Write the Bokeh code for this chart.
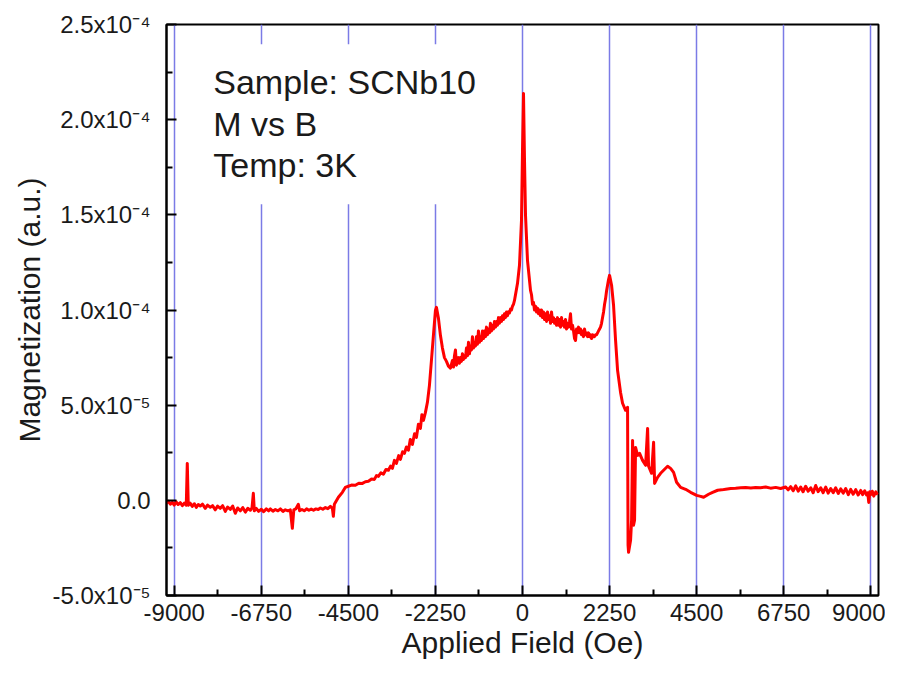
from bokeh.plotting import figure
from bokeh.models import FixedTicker, Range1d, Label, BoxAnnotation
from bokeh.embed import file_html
from bokeh.resources import INLINE

# ---- data, field in Oe, magnetization in 1e-5 a.u. ----
field_baseline_left = [
    -9206, -9150, -9100, -9050, -9000, -8950, -8900, -8844, -8790, -8740,
    -8689, -8663, -8637, -8590, -8534, -8480, -8430, -8380, -8327, -8270,
    -8198, -8140, -8068, -8010, -7939, -7880, -7810, -7750, -7680, -7620,
    -7551, -7490, -7422, -7360, -7293, -7230, -7163, -7100, -7034, -6990,
    -6956, -6930, -6880, -6820, -6749, -6690, -6620, -6560, -6517, -6450,
    -6387, -6320, -6258, -6190, -6129, -6060, -6000, -5948, -5910, -5860,
    -5793, -5760, -5700, -5640, -5580, -5520, -5460, -5400, -5340, -5280,
    -5224, -5160, -5094, -5030, -4965, -4913, -4888, -4862]
mag_baseline_left = [
    -0.16, -0.05, -0.20, -0.10, -0.25, -0.08, -0.22, -0.12, -0.28, -0.15,
    -0.26, 1.94, -0.26, -0.15, -0.32, -0.18, -0.37, -0.22, -0.30, -0.20,
    -0.42, -0.25, -0.36, -0.28, -0.50, -0.30, -0.42, -0.28, -0.58, -0.35,
    -0.48, -0.30, -0.68, -0.40, -0.55, -0.38, -0.62, -0.42, -0.52, -0.40,
    0.37, -0.55, -0.42, -0.58, -0.47, -0.60, -0.45, -0.55, -0.45, -0.57,
    -0.48, -0.55, -0.45, -0.58, -0.50, -0.55, -0.50, -1.47, -0.50, -0.45,
    -0.21, -0.55, -0.48, -0.55, -0.45, -0.52, -0.46, -0.52, -0.45, -0.48,
    -0.40, -0.47, -0.38, -0.44, -0.32, -0.42, -0.84, -0.21]

field_rise_left = [
    -4758, -4655, -4580, -4500, -4420, -4319, -4230, -4138, -4060, -3982,
    -3900, -3827, -3775, -3724, -3660, -3595, -3530, -3465, -3410, -3362,
    -3310, -3258, -3200, -3155, -3100, -3051, -3000, -2948, -2900, -2845,
    -2790, -2741, -2690, -2638, -2600, -2560, -2508, -2457, -2405, -2353,
    -2302, -2250, -2224, -2172]
mag_rise_left = [
    0.16, 0.42, 0.68, 0.74, 0.80, 0.79, 0.90, 0.89, 0.98, 1.00,
    1.12, 1.10, 1.30, 1.26, 1.45, 1.37, 1.62, 1.58, 1.80, 1.68,
    2.10, 1.94, 2.35, 2.15, 2.55, 2.47, 2.80, 2.63, 3.20, 2.94,
    3.50, 3.31, 4.00, 3.78, 4.50, 4.20, 4.62, 5.15, 6.04, 7.36,
    8.67, 9.98, 10.14, 9.56]

field_mid_left = [
    -2121, -2069, -2017, -1965, -1914, -1862, -1810, -1784, -1758, -1733,
    -1707, -1681, -1655, -1629, -1603, -1578, -1552, -1526, -1500, -1474,
    -1448, -1422, -1396, -1371, -1345, -1319, -1293, -1267, -1241, -1216,
    -1190, -1164, -1138, -1112, -1086, -1060, -1034, -1009, -983, -957,
    -931, -905, -879, -853, -828, -802, -776, -750, -724, -698,
    -672, -647, -621, -595, -569, -543, -517, -491, -465, -440,
    -414, -388, -362, -336, -310, -284, -259, -233, -207, -181]
mag_mid_left = [
    8.67, 8.0, 7.5, 7.3, 7.05, 6.95, 7.35, 7.0, 7.6, 7.9,
    7.1, 7.3, 7.5, 7.2, 7.5, 7.3, 7.7, 7.4, 7.6, 7.5,
    8.0, 7.6, 8.3, 7.7, 8.1, 7.9, 8.6, 8.0, 8.3, 8.1,
    8.6, 8.2, 8.9, 8.3, 8.6, 8.4, 8.9, 8.5, 8.9, 8.6,
    9.1, 8.7, 9.0, 8.8, 9.3, 8.9, 9.2, 9.0, 9.4, 9.1,
    9.4, 9.2, 9.6, 9.3, 9.6, 9.4, 9.7, 9.5, 9.8, 9.6,
    9.9, 9.7, 9.9, 9.85, 10.05, 10.0, 10.2, 10.3, 10.5, 10.8]

field_center = [-129, -78, -26, 0, 26, 52, 78, 129, 207]
mag_center = [11.40, 12.35, 14.71, 18.39, 21.38, 17.86, 14.97, 12.61, 11.03]

field_mid_right = [
    233, 259, 284, 310, 336, 362, 388, 414, 440, 465,
    491, 517, 543, 569, 595, 621, 647, 672, 698, 724,
    750, 776, 802, 828, 853, 879, 905, 931, 957, 983,
    1009, 1034, 1060, 1086, 1112, 1138, 1164, 1190, 1216, 1241,
    1267, 1293, 1319, 1345, 1371, 1396, 1422, 1448, 1474, 1500,
    1526, 1552, 1578, 1603, 1629, 1655, 1681, 1707, 1733, 1758,
    1784, 1810, 1836, 1862, 1888, 1914, 1940, 1965, 1991, 2017,
    2043, 2069, 2095, 2121, 2147, 2172, 2198, 2224, 2250]
mag_mid_right = [
    10.8, 10.3, 10.4, 10.0, 10.2, 9.9, 10.1, 9.8, 10.0, 9.7,
    10.0, 9.6, 9.9, 9.5, 9.8, 9.4, 9.9, 9.5, 9.7, 9.3,
    9.9, 9.4, 9.6, 9.3, 9.5, 9.2, 9.6, 9.2, 9.5, 9.1,
    9.6, 9.2, 9.4, 9.1, 9.5, 9.0, 9.3, 9.1, 9.4, 9.8,
    9.0, 9.2, 8.9, 8.5, 8.4, 9.0, 8.8, 9.1, 8.8, 9.0,
    8.7, 8.9, 8.6, 9.0, 8.7, 8.8, 8.6, 8.8, 8.6, 8.7,
    8.5, 8.7, 8.6, 8.6, 8.7, 8.7, 8.8, 8.9, 9.0, 9.1,
    9.3, 9.6, 9.9, 10.3, 10.6, 11.0, 11.3, 11.6, 11.82]

field_fall_right = [
    2302, 2353, 2405, 2457, 2534, 2586, 2664, 2715, 2728, 2741,
    2793, 2819, 2845, 2870, 2896, 2922, 2974, 3026, 3103, 3181,
    3233, 3258, 3336, 3388, 3414, 3491, 3569, 3672, 3750, 3827,
    3905, 3982, 4086, 4215, 4344, 4500, 4603, 4681, 4810]
mag_fall_right = [
    11.30, 10.25, 8.41, 6.83, 5.67, 5.10, 4.73, 4.89, -2.36, -2.73,
    -2.10, -1.05, 3.15, -1.31, -1.05, 2.78, 2.36, 2.47, 2.10, 1.84,
    3.78, 1.79, 1.42, 3.05, 0.89, 1.21, 1.42, 1.63, 1.79, 1.68,
    1.47, 0.95, 0.68, 0.58, 0.42, 0.26, 0.21, 0.16, 0.32]

field_baseline_right = [
    4913, 5043, 5150, 5250, 5380, 5508, 5640, 5767, 5900, 6025,
    6150, 6284, 6410, 6543, 6670, 6801, 6865, 6930, 6995, 7060,
    7125, 7189, 7250, 7318, 7383, 7448, 7512, 7577, 7640, 7706,
    7770, 7836, 7900, 7965, 8030, 8094, 8160, 8223, 8290, 8353,
    8420, 8482, 8545, 8611, 8675, 8741, 8790, 8844, 8890, 8922,
    8948, 8975, 8999, 9040, 9077, 9130, 9180]
mag_baseline_right = [
    0.42, 0.53, 0.55, 0.58, 0.62, 0.63, 0.66, 0.68, 0.65, 0.68,
    0.66, 0.70, 0.64, 0.68, 0.62, 0.70, 0.55, 0.72, 0.50, 0.76,
    0.48, 0.70, 0.45, 0.74, 0.48, 0.66, 0.40, 0.78, 0.46, 0.66,
    0.40, 0.70, 0.38, 0.62, 0.40, 0.66, 0.36, 0.60, 0.38, 0.62,
    0.30, 0.58, 0.32, 0.56, 0.28, 0.52, 0.30, 0.50, 0.28, 0.40,
    -0.11, 0.45, 0.30, 0.48, 0.22, 0.45, 0.30]

field_oe = (field_baseline_left + field_rise_left + field_mid_left + field_center
            + field_mid_right + field_fall_right + field_baseline_right)
magnetization_e5 = (mag_baseline_left + mag_rise_left + mag_mid_left + mag_center
                    + mag_mid_right + mag_fall_right + mag_baseline_right)
assert len(field_oe) == len(magnetization_e5)
magnetization = [v * 1e-5 for v in magnetization_e5]

x_ticks = [-9000, -6750, -4500, -2250, 0, 2250, 4500, 6750, 9000]
x_minor_ticks = [-7875, -5625, -3375, -1125, 1125, 3375, 5625, 7875]
y_ticks = [-5e-5, 0.0, 5e-5, 1e-4, 1.5e-4, 2e-4, 2.5e-4]
y_tick_labels = ["-5.0x10\u207b\u2075", "0.0", "5.0x10\u207b\u2075",
                 "1.0x10\u207b\u2074", "1.5x10\u207b\u2074",
                 "2.0x10\u207b\u2074", "2.5x10\u207b\u2074"]
y_minor_ticks = [-2.5e-5, 2.5e-5, 7.5e-5, 1.25e-4, 1.75e-4, 2.25e-4]
info_lines = ["Sample: SCNb10", "M vs B", "Temp: 3K"]

FONT = "Liberation Sans"

p = figure(width=885, height=669, output_backend="svg", toolbar_location=None,
           x_range=Range1d(-9200, 9200), y_range=Range1d(-5e-5, 2.5e-4),
           min_border_left=166, min_border_right=7, min_border_top=24,
           min_border_bottom=74)
p.background_fill_color = "white"
p.border_fill_color = "white"
p.outline_line_color = "black"
p.outline_line_width = 2

# grid: only vertical blue lines
p.ygrid.grid_line_color = None
p.xgrid.grid_line_color = "#7b7be6"
p.xgrid.grid_line_width = 1.5
p.xgrid.ticker = FixedTicker(ticks=x_ticks)

# axes
p.xaxis.ticker = FixedTicker(ticks=x_ticks, minor_ticks=x_minor_ticks)
p.yaxis.ticker = FixedTicker(ticks=y_ticks, minor_ticks=y_minor_ticks)
p.yaxis.major_label_overrides = {t: l for t, l in zip(y_ticks, y_tick_labels)}
p.xaxis.major_label_overrides = {t: str(t) for t in x_ticks}

for ax in (p.xaxis, p.yaxis):
    ax.axis_line_width = 2
    ax.axis_line_color = "black"
    ax.major_tick_in = 10
    ax.major_tick_out = 0
    ax.minor_tick_in = 6
    ax.minor_tick_out = 0
    ax.major_tick_line_width = 2
    ax.minor_tick_line_width = 2
    ax.major_tick_line_color = "black"
    ax.minor_tick_line_color = "black"
    ax.major_label_text_font = FONT
    ax.major_label_text_font_size = "24px"
    ax.major_label_text_color = "#1a1a1a"
    ax.axis_label_text_font = FONT
    ax.axis_label_text_font_size = "30px"
    ax.axis_label_text_font_style = "normal"
    ax.axis_label_text_color = "#1a1a1a"

p.xaxis.axis_label = "Applied Field (Oe)"
p.yaxis.axis_label = "Magnetization (a.u.)"
p.xaxis.major_label_standoff = 8
p.xaxis.axis_label_standoff = 2
p.yaxis.major_label_standoff = 16
p.yaxis.axis_label_standoff = 4

# curve
p.line(field_oe, magnetization, line_color="#ff0000", line_width=3,
       line_join="round")

# white text box hiding the grid lines behind the annotation
p.add_layout(BoxAnnotation(left=-8456, right=-569, top=2.396e-4, bottom=1.555e-4,
                           fill_color="white", fill_alpha=1.0, line_color=None))
for txt, yy in zip(info_lines, [2.196e-4, 1.975e-4, 1.760e-4]):
    p.add_layout(Label(x=-7991, y=yy, text=txt, text_font=FONT,
                       text_font_size="34px", text_color="#1a1a1a",
                       text_baseline="alphabetic", text_align="left"))

open("out.html", "w").write(file_html(p, INLINE))
